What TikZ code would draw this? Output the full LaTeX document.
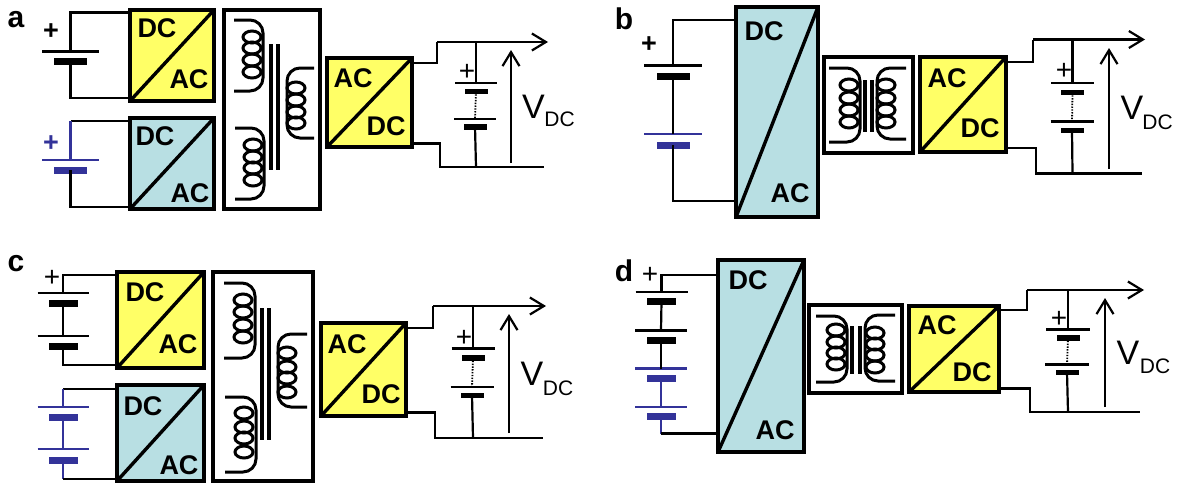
\documentclass[tikz,border=0pt]{standalone}
\usepackage{fontspec}
\setmainfont{Liberation Sans}
\usetikzlibrary{arrows.meta}
\definecolor{yel}{HTML}{FFFF66}
\definecolor{teal2}{HTML}{B8DFE3}
\definecolor{blu}{HTML}{333399}
\tikzset{
  convbox/.style={draw=black,line width=4pt,inner sep=0pt,outer sep=0pt},
  xfbox/.style={draw=black,line width=4pt,fill=white,inner sep=0pt,outer sep=0pt},
  lab/.style={font=\fontsize{27}{27}\selectfont\bfseries,inner sep=0pt,text=black},
  panel/.style={font=\fontsize{30}{30}\selectfont\bfseries,inner sep=0pt},
  plus/.style={font=\fontsize{27}{27}\selectfont\bfseries,inner sep=0pt},
  thinplus/.style={font=\fontsize{28}{28}\selectfont,inner sep=0pt},
  wire/.style={line width=2.2pt,line join=miter},
  barb/.style={line width=2.2pt,-{Straight Barb[length=14pt,width=17pt,line width=2.2pt]}},
  vbig/.style={font=\fontsize{34}{34}\selectfont,inner sep=0pt},
  vsub/.style={font=\fontsize{21}{21}\selectfont,inner sep=0pt},
  coilwire/.style={line width=3pt},
  coreline/.style={line width=3.6pt},
  dots/.style={line width=1.8pt,dash pattern=on 1.4pt off 1.4pt}
}
% name x1 y1 x2 y2 colour
\newcommand\conv[6]{%
  \pgfmathsetmacro\cvw{#4-#2}\pgfmathsetmacro\cvh{#5-#3}%
  \pgfmathsetmacro\cvx{(#2+#4)/2}\pgfmathsetmacro\cvy{(#3+#5)/2}%
  \node[convbox,fill=#6,minimum width=\cvw pt,minimum height=\cvh pt] (#1) at (\cvx,\cvy) {};
  \draw[line width=3.4pt] (#1.south west) -- (#1.north east);
}
\newcommand\xfbox[5]{%
  \pgfmathsetmacro\cvw{#4-#2}\pgfmathsetmacro\cvh{#5-#3}%
  \pgfmathsetmacro\cvx{(#2+#4)/2}\pgfmathsetmacro\cvy{(#3+#5)/2}%
  \node[xfbox,minimum width=\cvw pt,minimum height=\cvh pt] (#1) at (\cvx,\cvy) {};
}
% name cx ythin hwthin ythick hwthick colour hthick
\newcommand\cell[8]{%
  \coordinate (#1t) at (#2,#3);
  \coordinate (#1b) at (#2,#5);
  \draw[#7,line width=2.4pt] ({#2-#4},#3) -- ({#2+#4},#3);
  \fill[#7] ({#2-#6},{#5-#8/2}) rectangle ({#2+#6},{#5+#8/2});
}
% xlead xvert ytop ybot xell y1 y2 y3 y4
\newcommand\coil[9]{%
  \draw[coilwire,rounded corners=13pt] (#1,#3) -| (#2,#4) -- (#1,#4);
  \foreach \ey in {#6,#7,#8,#9}{\draw[coilwire] (#5,\ey) ellipse (9 and 6);}
}
% box yu xu yt xtip yl xl yb xend
\newcommand\outwires[9]{%
  \coordinate (#1p) at (#1.east |- 0,#2);
  \coordinate (#1n) at (#1.east |- 0,#6);
  \coordinate (#1k) at (#3,#4);
  \coordinate (#1tip) at (#5,#4);
  \coordinate (#1m) at (#7,#8);
  \coordinate (#1end) at (#9,#8);
  \draw[barb] (#1k) -- (#1tip);
  \draw[wire] (#1p) -| (#1k);
  \draw[wire] (#1n) -| (#1m) -- (#1end);
}
% box xbat ytop ybot xarrow yarrowbottom yarrowtop
\newcommand\vout[7]{%
  \coordinate (#1jt) at (#2,#3);
  \coordinate (#1jb) at (#2,#4);
  \draw[wire] (#1jt) -- (#1ct);
  \draw[dots] (#1cb) -- (#1dt);
  \draw[wire] (#1db) -- (#1jb);
  \coordinate (#1au) at (#5,#7);
  \coordinate (#1ad) at (#5,#6);
  \draw[barb] (#1ad) -- (#1au);
}
\newcommand\lab[4]{\node[lab] (#1) at (#2,#3) {#4};}
\begin{document}
\begin{tikzpicture}[x=1pt,y=-1pt]
\useasboundingbox (0,0) rectangle (1177,483);

% ---------- panel a
\node[panel] (pa) at (16,20) {a};
\conv{aa}{130}{10}{214}{101}{yel}
\conv{ab}{130}{118}{214}{209}{teal2}
\xfbox{ax}{224}{10}{320}{209}
\conv{ac}{327}{58}{412}{147}{yel}
\lab{aa1}{157}{28}{DC}\lab{aa2}{189}{79}{AC}
\lab{ab1}{155}{136}{DC}\lab{ab2}{190}{193}{AC}
\lab{ac1}{353}{78}{AC}\lab{ac2}{386}{126}{DC}
\cell{a1}{70.5}{51.5}{28.5}{61}{16.5}{black}{7}
\cell{a2}{70.5}{160}{28.5}{170}{16.5}{blu}{7}
\node[plus] (ap1) at (51,32) {+};
\node[plus,text=blu] (ap2) at (51,144) {+};
\coordinate (aa-p) at (130,12.5);\coordinate (aa-n) at (130,98);
\coordinate (ab-p) at (130,121);\coordinate (ab-n) at (130,207);
\draw[wire] (aa-p) -| (a1t);
\draw[wire] (a1b) |- (aa-n);
\draw[wire] (ab-p) -- (a2t |- ab-p);
\draw[wire,blu] (a2t |- ab-p) -- (a2t);
\draw[wire] (a2b) |- (ab-n);
\coil{234}{263}{20}{91}{252}{37}{48}{60}{72}
\coil{235}{264}{128}{199}{253}{145}{157}{168}{180}
\coil{314}{287}{68}{138}{296}{88}{100}{112}{123}
\draw[coreline] (271,44) -- (271,170);
\draw[coreline] (278,44) -- (278,170);
\outwires{ac}{63}{437}{42}{548}{143.5}{440}{167}{544}
\cell{acc}{476}{83}{21}{91.5}{11.5}{black}{5.5}
\cell{acd}{475}{119}{21}{127}{11.5}{black}{5.5}
\vout{ac}{476}{42}{167}{511}{163}{50}
\node[thinplus] (ap3) at (467,72) {+};
\node[vbig] (av) at (533.5,107) {V};
\node[vsub] (avs) at (559.5,119) {DC};

% ---------- panel b
\node[panel] (pb) at (624,19) {b};
\conv{ba}{736}{7}{818}{217}{teal2}
\xfbox{bx}{824}{57}{913}{153}
\conv{bc}{920}{57}{1006}{152}{yel}
\lab{ba1}{764}{31}{DC}\lab{ba2}{790}{193}{AC}
\lab{bc1}{947}{78}{AC}\lab{bc2}{980}{128}{DC}
\cell{b1}{673}{65.5}{29}{76}{16.5}{black}{7}
\cell{b2}{673}{134}{29}{145}{16.5}{blu}{7}
\node[plus] (bp1) at (649,45) {+};
\coordinate (ba-p) at (736,20);\coordinate (ba-n) at (736,201);
\draw[wire] (ba-p) -| (b1t);
\draw[wire] (b1b) -- (b2t);
\draw[wire] (b2b) |- (ba-n);
\coil{829}{860}{68}{142}{849}{85}{98}{110}{122}
\coil{906}{877}{68}{139}{886}{85}{98}{110}{122}
\draw[coreline] (865,80) -- (865,132);
\draw[coreline] (872,80) -- (872,132);
\outwires{bc}{62}{1033}{39.5}{1145}{148}{1036}{173.5}{1142}
\cell{bcc}{1072.5}{83}{21.5}{92.5}{11.5}{black}{5.5}
\cell{bcd}{1072}{121.5}{21.5}{130.5}{11.5}{black}{5.5}
\vout{bc}{1072.5}{39.5}{173.5}{1109}{169}{48}
\node[thinplus] (bp3) at (1064,71) {+};
\node[vbig] (bv) at (1132,108) {V};
\node[vsub] (bvs) at (1157.5,122) {DC};

% ---------- panel c
\node[panel] (pc) at (16,264) {c};
\conv{ca}{117}{272}{204}{368}{yel}
\conv{cb}{117}{385}{204}{481}{teal2}
\xfbox{cx}{213}{272}{313}{481}
\conv{cc}{321}{323}{406}{416}{yel}
\lab{ca1}{145}{292}{DC}\lab{ca2}{178}{344}{AC}
\lab{cb1}{143}{406}{DC}\lab{cb2}{179}{465}{AC}
\lab{cc1}{347}{344}{AC}\lab{cc2}{381}{394}{DC}
\cell{c1}{63}{293}{25.5}{303.5}{14.5}{black}{7}
\cell{c2}{63}{336}{25.5}{346}{14.5}{black}{7}
\cell{c3}{63}{407}{25.5}{417}{14.5}{blu}{7}
\cell{c4}{63}{449}{25.5}{460}{14.5}{blu}{7}
\node[thinplus] (cp1) at (52,278) {+};
\coordinate (ca-p) at (117,275);\coordinate (ca-n) at (117,365);
\coordinate (cb-p) at (117,389);\coordinate (cb-n) at (117,479);
\draw[wire] (ca-p) -| (c1t);
\draw[wire] (c1b) -- (c2t);
\draw[wire] (c2b) |- (ca-n);
\draw[wire] (cb-p) -- (c3t |- cb-p);
\draw[wire,blu] (c3t |- cb-p) -- (c3t);
\draw[wire,blu] (c3b) -- (c4t);
\draw[wire,blu] (c4b) -- (c4b |- cb-n);
\draw[wire] (c4b |- cb-n) -- (cb-n);
\coil{224}{255}{283}{358}{243}{300}{312}{325}{337}
\coil{225}{256}{397}{472}{244}{413}{427}{438}{452}
\coil{307}{278}{334}{407}{287}{353}{367}{378}{392}
\draw[coreline] (262,308) -- (262,440);
\draw[coreline] (269,308) -- (269,440);
\outwires{cc}{328}{433}{306}{546}{412.5}{435}{438}{543}
\cell{ccc}{473}{348.5}{21.5}{358}{11.5}{black}{5.5}
\cell{ccd}{472}{387}{21.5}{395.5}{11.5}{black}{5.5}
\vout{cc}{473}{306}{438}{509}{433}{314}
\node[thinplus] (cp3) at (464,338) {+};
\node[vbig] (cv) at (532,374) {V};
\node[vsub] (cvs) at (558,388) {DC};

% ---------- panel d
\node[panel] (pd) at (624,271) {d};
\conv{da}{718}{260}{804}{452}{teal2}
\xfbox{dx}{809}{305}{902}{393}
\conv{dc}{909}{306}{999}{392}{yel}
\lab{da1}{748}{280}{DC}\lab{da2}{775}{430}{AC}
\lab{dc1}{937}{325}{AC}\lab{dc2}{972}{372}{DC}
\cell{d1}{661.5}{292}{26}{301.5}{14.5}{black}{7}
\cell{d2}{661}{330.5}{26}{340}{14.5}{black}{7}
\cell{d3}{661}{368.5}{26}{378}{14.5}{blu}{7}
\cell{d4}{661}{407}{26}{416.5}{14.5}{blu}{7}
\node[thinplus] (dp1) at (650,275) {+};
\coordinate (da-p) at (718,275);\coordinate (da-n) at (718,433.5);
\draw[wire] (da-p) -| (d1t);
\draw[wire] (d1b) -- (d2t);
\draw[wire] (d2b) -- (d3t);
\draw[wire,blu] (d3b) -- (d4t);
\draw[wire,blu] (d4b) -- (d4b |- da-n);
\draw[wire] (d4b |- da-n) -- (da-n);
\coil{816}{847}{316}{382}{836}{330}{342}{353}{364}
\coil{895}{865}{315}{381}{875}{333}{344}{355}{367}
\draw[coreline] (852,326) -- (852,374);
\draw[coreline] (860,326) -- (860,374);
\outwires{dc}{310}{1027}{290}{1144}{388.5}{1030}{412}{1140}
\cell{dcc}{1068}{329.5}{22}{338}{11.5}{black}{5.5}
\cell{dcd}{1067}{364.5}{22}{372.5}{11.5}{black}{5.5}
\vout{dc}{1068}{290}{412}{1105}{407}{298}
\node[thinplus] (dp3) at (1059,319) {+};
\node[vbig] (dv) at (1128,353) {V};
\node[vsub] (dvs) at (1155,366) {DC};
\end{tikzpicture}
\end{document}
